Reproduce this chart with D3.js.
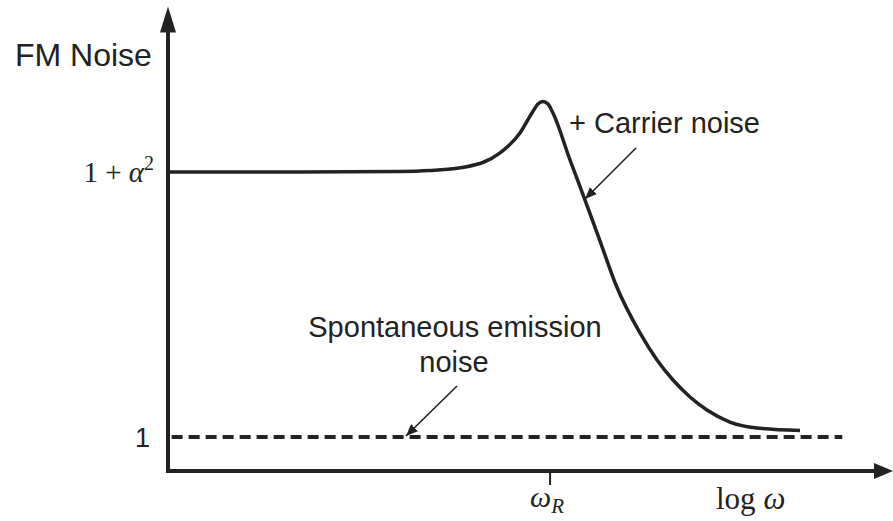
<!DOCTYPE html>
<html><head><meta charset="utf-8">
<script src="https://cdn.jsdelivr.net/npm/d3@7"></script>
<style>body{margin:0;background:#fff}svg{display:block}</style>
</head><body>
<script>
// ---- data (x in log-frequency units 0..100, y in relative FM noise units) ----
const curveX = [0.28, 18.2, 32.0, 36.1, 41.2, 45.8, 48.55, 50.2, 51.03, 51.72, 52.41, 53.1, 55.45, 57.52, 59.59, 61.79, 65.1, 67.45, 69.66, 72.0, 74.34, 77.5, 81.24, 87.17];
const curveY = [5.0, 5.0, 5.008, 5.023, 5.08, 5.287, 5.589, 5.891, 6.026, 6.064, 6.026, 5.891, 5.181, 4.577, 3.958, 3.294, 2.57, 2.162, 1.86, 1.604, 1.408, 1.226, 1.136, 1.098];
const spontX = [0.5, 93.0];
const spontY = [1, 1];
const yTickValues = [1, 5];
const yTickLabels = ["1", "1 + α²"];
const xTickValues = [52.7];
const omegaR = 52.7;

const W = 893, H = 521;
const x = d3.scaleLinear().domain([0, 100]).range([168, 893]);
const y = d3.scaleLinear().domain([1, 5]).range([437, 172]);
const yAxisTop = 7.5, yAxisBottom = 0.487;
const ink = "#222";

const svg = d3.select("body").append("svg").attr("width", W).attr("height", H);
const defs = svg.append("defs");
defs.append("marker").attr("id","ah").attr("viewBox","0 0 12 10").attr("refX",12).attr("refY",5)
  .attr("markerWidth",12).attr("markerHeight",10).attr("markerUnits","userSpaceOnUse").attr("orient","auto")
  .append("path").attr("d","M0,0 L12,5 L0,10 Z").attr("fill", ink);

// axes
const x0 = x(0), yb = y(yAxisBottom);
svg.append("line").attr("x1", x0).attr("x2", x0).attr("y1", yb + 2).attr("y2", y(yAxisTop) + 24)
  .attr("stroke", ink).attr("stroke-width", 4);
svg.append("path").attr("d", `M${x0},${y(yAxisTop)} L${x0-8},${y(yAxisTop)+26} L${x0+8},${y(yAxisTop)+26} Z`).attr("fill", ink);
svg.append("line").attr("x1", x0 - 2).attr("x2", x(100) - 16).attr("y1", yb).attr("y2", yb)
  .attr("stroke", ink).attr("stroke-width", 4);
svg.append("path").attr("d", `M${x(100)},${yb} L${x(100)-19},${yb-8} L${x(100)-19},${yb+8} Z`).attr("fill", ink);

// x tick at omega_R
xTickValues.forEach(v => {
  svg.append("line").attr("x1", x(v)).attr("x2", x(v)).attr("y1", yb).attr("y2", yb + 14)
    .attr("stroke", ink).attr("stroke-width", 2);
});
const serif = "'Liberation Serif','DejaVu Serif',serif";
const sans = "'Liberation Sans',Arial,sans-serif";

const wr = svg.append("text").attr("x", x(omegaR) - 20).attr("y", 507).attr("font-family", serif)
  .attr("font-size", 30).attr("fill", ink);
wr.append("tspan").attr("font-style","italic").text("ω");
wr.append("tspan").attr("font-style","italic").attr("font-size",21).attr("dy",6).text("R");
const lg = svg.append("text").attr("x", 716).attr("y", 509).attr("font-family", serif)
  .attr("font-size", 31).attr("fill", ink);
lg.append("tspan").text("log ");
lg.append("tspan").attr("font-style","italic").text("ω");

// y tick labels
svg.append("text").attr("x", 150).attr("y", y(yTickValues[0]) + 10).attr("text-anchor","end")
  .attr("font-family", sans).attr("font-size", 27).attr("fill", ink).text(yTickLabels[0]);
const al = svg.append("text").attr("x", 154).attr("y", y(yTickValues[1]) + 10).attr("text-anchor","end")
  .attr("font-family", serif).attr("font-size", 29).attr("fill", ink);
al.append("tspan").text("1 + ");
al.append("tspan").attr("font-style","italic").text("α");
al.append("tspan").attr("font-size",20).attr("dy",-12).text("2");

svg.append("text").attr("x", 15).attr("y", 66).attr("font-family", sans).attr("font-size", 32)
  .attr("fill", ink).text("FM Noise");

// spontaneous emission (dashed)
const line = d3.line().x(d => x(d[0])).y(d => y(d[1]));
svg.append("path").datum(d3.zip(spontX, spontY)).attr("d", line)
  .attr("fill","none").attr("stroke", ink).attr("stroke-width", 4).attr("stroke-dasharray","11,6");

// total FM noise curve
const cline = d3.line().x(d => x(d[0])).y(d => y(d[1])).curve(d3.curveMonotoneX);
svg.append("path").datum(d3.zip(curveX, curveY)).attr("d", cline)
  .attr("fill","none").attr("stroke", ink).attr("stroke-width", 3.5).attr("stroke-linejoin","round");

// annotations
svg.append("text").attr("x", 569).attr("y", 133).attr("font-family", sans).attr("font-size", 29)
  .attr("fill", ink).text("+ Carrier noise");
svg.append("line").attr("x1", 636).attr("y1", 148).attr("x2", 585).attr("y2", 199)
  .attr("stroke", ink).attr("stroke-width", 1.6).attr("marker-end","url(#ah)");

svg.append("text").attr("x", 455).attr("y", 337).attr("text-anchor","middle").attr("font-family", sans)
  .attr("font-size", 29).attr("fill", ink).text("Spontaneous emission");
svg.append("text").attr("x", 454).attr("y", 372).attr("text-anchor","middle").attr("font-family", sans)
  .attr("font-size", 29).attr("fill", ink).text("noise");
svg.append("line").attr("x1", 457).attr("y1", 386).attr("x2", 406).attr("y2", 436)
  .attr("stroke", ink).attr("stroke-width", 1.6).attr("marker-end","url(#ah)");
</script>
</body></html>
